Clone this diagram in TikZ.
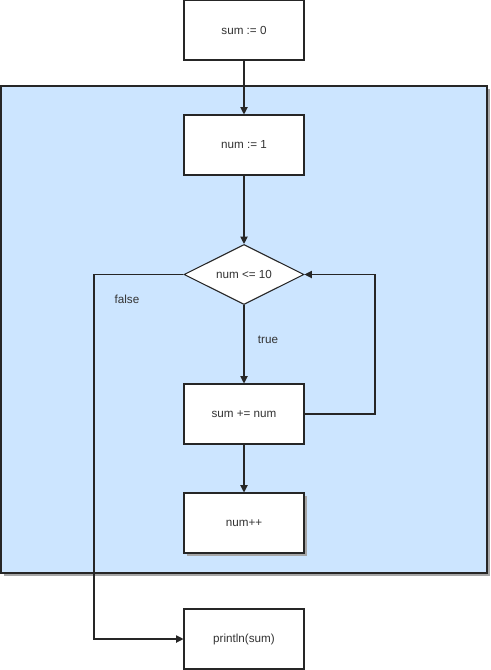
\documentclass[tikz,border=0pt]{standalone}
\usepackage{fontspec}
\setmainfont{Liberation Sans}
\usetikzlibrary{arrows.meta,shapes.geometric}
\definecolor{contblue}{HTML}{CCE5FF}
\definecolor{txt}{HTML}{333333}
\tikzset{
  stepbox/.style={draw=black!85, fill=white, minimum width=120*0.75pt, minimum height=60*0.75pt, inner sep=0pt, font=\fontsize{8.75pt}{10pt}\selectfont, text=txt, line width=0.8pt},
  decbox/.style={diamond, draw=black!85, fill=white, minimum width=120*0.75pt, minimum height=60*0.75pt, aspect=2, inner sep=0pt, font=\fontsize{8.75pt}{10pt}\selectfont, text=txt, line width=0.8pt},
  conn/.style={draw=black!85, line width=0.8pt, -{Triangle[length=5.5pt,width=5.5pt]}},
  lbl/.style={font=\fontsize{8.75pt}{10pt}\selectfont, text=txt, inner sep=0pt}
}
\begin{document}
\begin{tikzpicture}[x=0.75pt,y=-0.75pt]
\useasboundingbox (0,0) rectangle (490,670);
% container shadow and body
\fill[black!35] (4,89) rectangle (490,576);
\draw[fill=contblue, draw=black!85, line width=0.8pt] (1,86) rectangle (487,573);
\node[stepbox] (s0) at (244,30) {sum := 0};
\node[stepbox] (n1) at (244,145) {num := 1};
\node[decbox] (d) at (244,274.5) {num <= 10};
\node[stepbox] (sn) at (244,414) {sum += num};
\fill[black!35] (187,496) rectangle (307,556);
\node[stepbox] (np) at (244,523) {num++};
\node[stepbox] (pr) at (244,639) {println(sum)};
\coordinate (fl) at (94,274.5);
\coordinate (fb) at (94,639);
\coordinate (lr) at (375,414);
\coordinate (lt) at (375,274.5);
\draw[conn] (s0) -- (n1);
\draw[conn] (n1) -- (d);
\draw[conn] (d) -- (sn);
\draw[conn] (sn) -- (np);
\draw[conn] (sn.east) -- (lr) -- (lt) -- (d.east);
\draw[conn] (d.west) -- (fl) -- (fb) -- (pr.west);
\node[lbl] (lf) at (127,299) {false};
\node[lbl] (lt2) at (268,340) {true};
\end{tikzpicture}
\end{document}
